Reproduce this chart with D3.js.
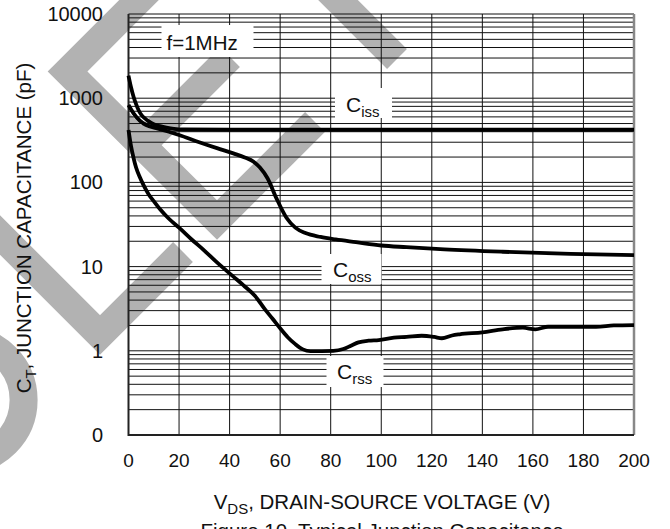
<!DOCTYPE html>
<html>
<head>
<meta charset="utf-8">
<script src="https://cdn.jsdelivr.net/npm/d3@7"></script>
<style>
  body { margin: 0; background: #fff; }
  text { font-family: "Liberation Sans", Arial, sans-serif; fill: #111; }
</style>
</head>
<body>
<script>

// data (V, pF)
var ciss = [[0,1850],[1,1350],[2,1040],[3,850],[4,720],[5,640],[6.5,575],[8,530],[10,490],[12.5,465],[15,447],[18,432],[22,425],[40,422],[100,422],[200,422]];
var coss = [[0,830],[2,660],[4.5,540],[7,480],[11,440],[16,400],[20,366],[28,300],[35,255],[41.5,221],[46,198],[49.5,176],[52,150],[55,112],[58.5,65],[62.5,38],[66,29],[70,25],[76,22.5],[82,21],[90,19.5],[100,17.8],[110,17],[125,16],[148,15],[175,14.2],[200,13.7]];
var crss = [[0,420],[1,270],[2,195],[3,150],[4.5,115],[6,92],[8,72],[10,60],[12.5,48],[16,37],[20,29],[25,21],[30,15.5],[35,11.2],[41.5,7.6],[46,5.8],[50,4.5],[54,3.1],[57,2.4],[60,1.85],[63,1.45],[66,1.2],[69,1.04],[72,0.99],[81,1.0],[85,1.05],[88,1.15],[91,1.26],[95,1.32],[99,1.34],[105,1.43],[110,1.46],[116,1.51],[121,1.46],[124,1.41],[128,1.52],[131,1.57],[140,1.66],[148,1.8],[156,1.88],[161,1.8],[166,1.93],[185,1.93],[192,2.0],[200,2.02]];

var xTicks = [0,20,40,60,80,100,120,140,160,180,200];
var yTicks = [0.1,1,10,100,1000,10000];
var yTickLabels = ["0","1","10","100","1000","10000"];

var svg = d3.select('body').append('svg')
    .attr('width',670)
    .attr('height',529);

var x = d3.scaleLinear().domain([0,200]).range([128.5,634]);
var y = d3.scaleLog().domain([0.1,10000]).range([435,14]);

// grey watermark stripes behind the chart
var band = '#b2b2b2';
var stripes = [
    [[157.5,-18.5],[67.5,71.5],[217,220],[315,122]],
    [[230,57],[141.5,145.5]],
    [[317,-21],[397,59]],
    [[-30,205],[100,335],[183,252]]
];
stripes.forEach(function(p){
    svg.append('path')
        .attr('d', d3.line()(p))
        .attr('fill','none')
        .attr('stroke',band)
        .attr('stroke-width',28)
        .attr('stroke-linejoin','miter');
});
svg.append('circle')
    .attr('cx',-37)
    .attr('cy',400)
    .attr('r',60.6)
    .attr('fill','none')
    .attr('stroke',band)
    .attr('stroke-width',28);

// grid
var minor = [];
for (var e = -1; e < 4; e++) {
    for (var k = 1; k < 10; k++) minor.push(k * Math.pow(10,e));
}
minor.push(10000);

svg.selectAll('.hgrid').data(minor).enter().append('line')
    .attr('class','hgrid')
    .attr('x1',x(0)).attr('x2',x(200))
    .attr('y1',function(d){ return y(d); })
    .attr('y2',function(d){ return y(d); })
    .attr('stroke','#111')
    .attr('stroke-width',1);

svg.selectAll('.vgrid').data(xTicks).enter().append('line')
    .attr('class','vgrid')
    .attr('x1',function(d){ return x(d); })
    .attr('x2',function(d){ return x(d); })
    .attr('y1',y(10000)).attr('y2',y(0.1))
    .attr('stroke','#111')
    .attr('stroke-width',1);

// frame
svg.append('line').attr('x1',x(200)).attr('x2',x(200)).attr('y1',y(10000)).attr('y2',y(0.1))
    .attr('stroke','#888').attr('stroke-width',2.5);
svg.append('line').attr('x1',x(0)).attr('x2',x(0)).attr('y1',y(10000)).attr('y2',y(0.1)+1)
    .attr('stroke','#222').attr('stroke-width',2);
svg.append('line').attr('x1',x(0)).attr('x2',x(200)).attr('y1',y(0.1)).attr('y2',y(0.1))
    .attr('stroke','#222').attr('stroke-width',2);

// white label boxes
function box(x0,y0,w,h){
    svg.append('rect').attr('x',x0).attr('y',y0).attr('width',w).attr('height',h).attr('fill','#fff');
}
box(161.5,25,92,32);
box(335,88,57,30);
box(321.5,254,60,30);
box(326.5,356,57,31);

// curves
var line = d3.line()
    .x(function(d){ return x(d[0]); })
    .y(function(d){ return y(d[1]); })
    .curve(d3.curveMonotoneX);

[ciss,coss,crss].forEach(function(s){
    svg.append('path')
        .attr('d',line(s))
        .attr('fill','none')
        .attr('stroke','#000')
        .attr('stroke-width',3.8)
        .attr('stroke-linejoin','round');
});

// tick labels
svg.selectAll('.xl').data(xTicks).enter().append('text')
    .attr('x',function(d){ return x(d); })
    .attr('y',467)
    .attr('text-anchor','middle')
    .style('font-size','19px')
    .text(function(d){ return d; });

svg.selectAll('.yl').data(yTicks).enter().append('text')
    .attr('x',103)
    .attr('y',function(d){ return y(d) + 7; })
    .attr('text-anchor','end')
    .style('font-size','20px')
    .text(function(d,i){ return yTickLabels[i]; });

// annotations
svg.append('text').attr('x',166.5).attr('y',50).style('font-size','20.5px').text('f=1MHz');

function capLabel(x0,y0,sub){
    var t = svg.append('text').attr('x',x0).attr('y',y0).style('font-size','21px');
    t.append('tspan').text('C');
    t.append('tspan').attr('dy',5).style('font-size','15px').text(sub);
}
capLabel(346,111.5,'iss');
capLabel(333,276.5,'oss');
capLabel(337,379,'rss');

// axis titles
var xt = svg.append('text').attr('x',382).attr('y',509).attr('text-anchor','middle').style('font-size','20.5px');
xt.append('tspan').text('V');
xt.append('tspan').attr('dy',5).style('font-size','15px').text('DS');
xt.append('tspan').attr('dy',-5).text(', DRAIN-SOURCE VOLTAGE (V)');

// caption runs off the bottom edge, as in the reference
svg.append('text').attr('x',382).attr('y',538).attr('text-anchor','middle').style('font-size','20.5px')
    .text('Figure 10. Typical Junction Capacitance');

var yt = svg.append('text')
    .attr('transform','translate(31,228) rotate(-90)')
    .attr('text-anchor','middle')
    .style('font-size','20.5px');
yt.append('tspan').text('C');
yt.append('tspan').attr('dy',5).style('font-size','15px').text('T');
yt.append('tspan').attr('dy',-5).text(', JUNCTION CAPACITANCE (pF)');

</script>
</body>
</html>
